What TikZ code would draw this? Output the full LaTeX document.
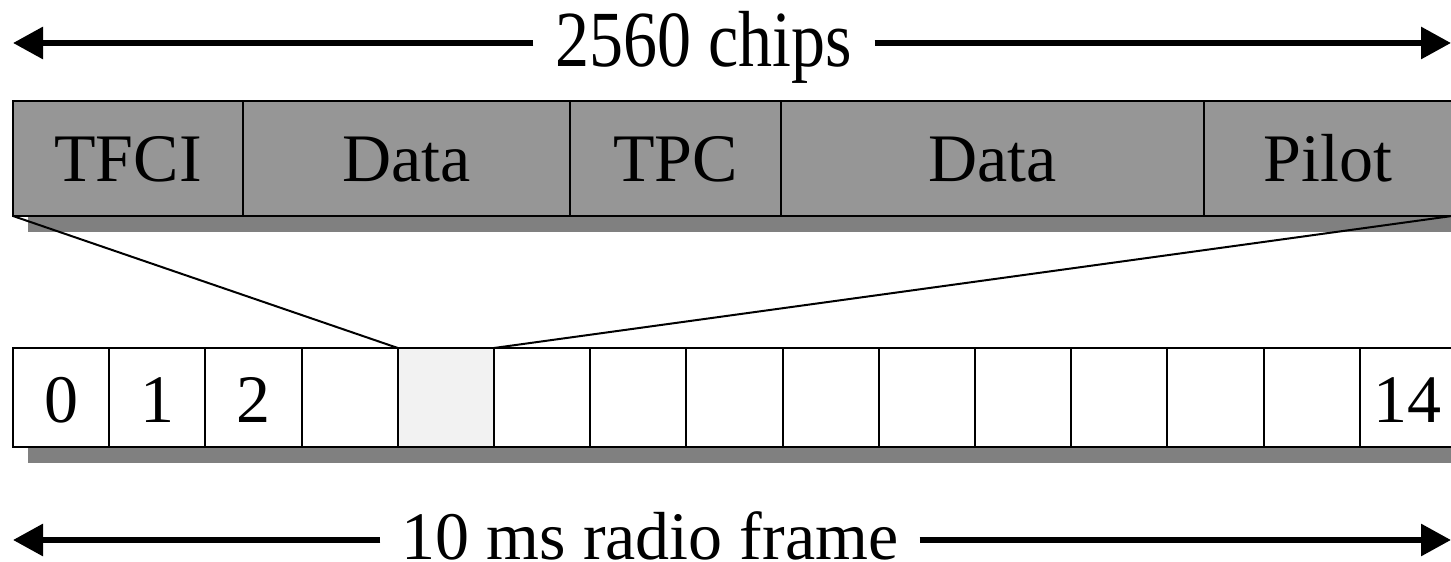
\documentclass[tikz,border=0pt]{standalone}
\usepackage{fontspec}
\setmainfont{Liberation Serif}
\usepackage{graphicx}
\usetikzlibrary{arrows.meta, positioning, backgrounds}
\definecolor{barGrey}{HTML}{969696}
\definecolor{shadowGrey}{HTML}{808080}
\definecolor{slotHi}{HTML}{F2F2F2}
\newcommand{\bigfont}{\fontsize{34}{40}\selectfont}
\tikzset{
  % one field of the slot, and one slot of the frame
  field/.style    = {draw, fill=barGrey, line width=1pt, outer sep=0pt, inner sep=0pt,
                     minimum height=57.5pt, text height=23.5pt, text depth=0pt, font=\bigfont},
  slot/.style     = {draw, line width=1pt, outer sep=0pt, inner sep=0pt,
                     minimum width=48.1pt, minimum height=49.5pt,
                     text height=25.5pt, text depth=0pt, font=\bigfont},
  dimarrow/.style = {-{Triangle[length=15pt, width=15.5pt]}, line width=3pt},
  zoomline/.style = {line width=1pt},
  dimlbl/.style   = {font=\bigfont, inner xsep=11pt, inner ysep=0pt, anchor=base},
}

\begin{document}
\begin{tikzpicture}[x=0.5pt, y=0.5pt]
  \useasboundingbox (0,0) rectangle (1451,562);
  % one slot: 2560 chips
  \node[field, minimum width=115pt, anchor=north west] (tfci) at (13,461) {TFCI};
  \node[field, minimum width=163.5pt, right=0pt of tfci] (data1) {Data};
  \node[field, minimum width=105.5pt, right=0pt of data1] (tpc) {TPC};
  \node[field, minimum width=211.5pt, right=0pt of tpc] (data2) {Data};
  \node[field, minimum width=124pt, right=0pt of data2] (pilot) {Pilot};
  % the radio frame: 15 slots
  \foreach \i/\lab/\col in {0/0/white, 1/1/white, 2/2/white, 3/{}/white, 4/{}/slotHi,
      5/{}/white, 6/{}/white, 7/{}/white, 8/{}/white, 9/{}/white, 10/{}/white,
      11/{}/white, 12/{}/white, 13/{}/white, 14/14/white}
    \node[slot, fill=\col, anchor=north west] (s\i) at ({13+96.2*\i},214) {\lab};
  % shadows behind both bars
  \begin{scope}[on background layer]
    \fill[shadowGrey] ([shift={(15,-16.5)}]tfci.north west) rectangle ([shift={(15,-16.5)}]pilot.south east);
    \fill[shadowGrey] ([shift={(15,-16.5)}]s0.north west) rectangle ([shift={(15,-16.5)}]s14.south east);
  \end{scope}
  \draw[zoomline] (tfci.south west) -- (s4.north west);
  \draw[zoomline] (pilot.south east) -- (s4.north east);
  % length arrows
  \coordinate (chipsl) at (13,519);
  \coordinate (chipsr) at (1451,519);
  \node[dimlbl] (chips) at (704,495) {\scalebox{1}[1.17]{2560 chips}};
  \draw[dimarrow] (chips.west |- chipsl) -- (chipsl);
  \draw[dimarrow] (chips.east |- chipsr) -- (chipsr);
  \coordinate (framel) at (13,22);
  \coordinate (framer) at (1451,22);
  \node[dimlbl, inner xsep=10.5pt] (frame) at (650,3) {10 ms radio frame};
  \draw[dimarrow] (frame.west |- framel) -- (framel);
  \draw[dimarrow] (frame.east |- framer) -- (framer);
\end{tikzpicture}
\end{document}
